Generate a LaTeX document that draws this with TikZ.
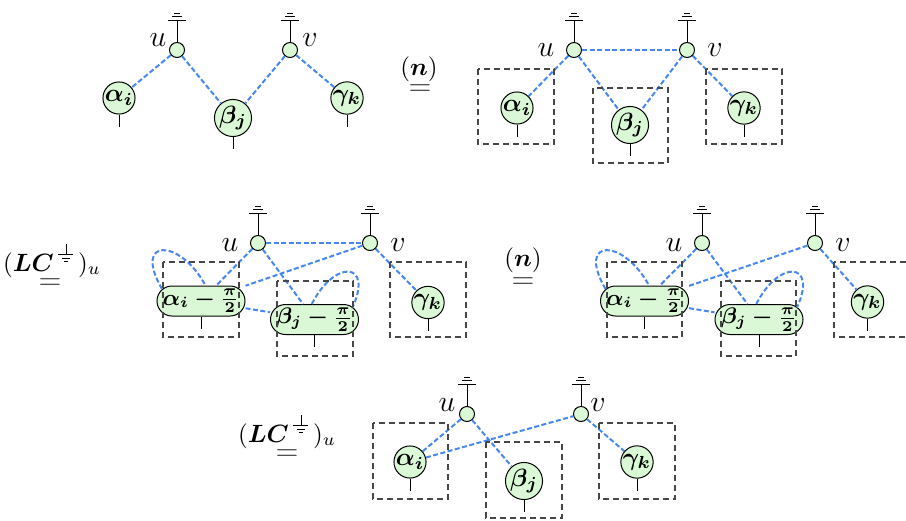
\documentclass[tikz,border=0pt]{standalone}
\usepackage{amsmath,bm}
\definecolor{zxblue}{RGB}{70,135,240}
\definecolor{zxgreen}{RGB}{218,248,214}
\definecolor{boxgray}{RGB}{70,70,70}
\newcommand{\gndsym}{\tikz[baseline=0pt,line width=0.35pt]{\draw[solid,black] (0,10.8pt)--(0,6.8pt) (-3pt,6.8pt)--(3pt,6.8pt) (-1.65pt,5.2pt)--(1.65pt,5.2pt) (-0.8pt,3.9pt)--(0.8pt,3.9pt);}}
\newcommand{\gndat}[1]{\draw[leg] (#1.north) -- ++(0,-22) ++(-9,0) -- ++(18,0) ++(-14,-4) -- ++(10,0) ++(-8,-3) -- ++(6,0);}
\newcommand{\legat}[1]{\draw[leg] (#1.south) -- ++(0,12);}
\tikzset{
 spider/.style={circle,draw,fill=zxgreen,minimum size=6pt,inner sep=0pt,line width=0.4pt},
 phase/.style={circle,draw,fill=zxgreen,minimum size=12.4pt,inner sep=0pt,line width=0.4pt},
 pill/.style={rectangle,rounded corners=6pt,draw,fill=zxgreen,minimum width=35.2pt,minimum height=12pt,inner sep=0pt,line width=0.4pt,font=\small},
 wire/.style={zxblue,line width=0.8pt,dash pattern=on 2pt off 1pt},
 leg/.style={line width=0.4pt},
 dbox/.style={boxgray,line width=0.5pt,dash pattern=on 2.4pt off 1.6pt},
 lbl/.style={inner sep=0pt,font=\large},
 eqlbl/.style={inner sep=0pt,anchor=base},
 eqsign/.style={inner sep=0pt,anchor=base,font=\large,text=black!80},
}
\begin{document}
\begin{tikzpicture}[x=0.4pt,y=-0.4pt]
\useasboundingbox (0,0) rectangle (906,520);

% ---------- Panel 1 ----------
\node[spider] (u1) at (177,50) {};
\node[spider] (v1) at (290,50) {};
\node[phase] (a1) at (119,98) {$\boldsymbol{\alpha_i}$};
\node[phase] (b1) at (233,118) {$\boldsymbol{\beta_j}$};
\node[phase] (g1) at (347,98) {$\boldsymbol{\gamma_k}$};
\node[lbl] (lu1) at (158,40) {$u$};
\node[lbl] (lv1) at (310,40) {$v$};
\gndat{u1}\gndat{v1}
\legat{a1}\legat{b1}\legat{g1}
\draw[wire] (u1) -- (a1);
\draw[wire] (u1) -- (b1);
\draw[wire] (v1) -- (b1);
\draw[wire] (v1) -- (g1);
\node[eqlbl] (n1) at (419,75) {$(\boldsymbol{n})$};
\node[eqsign] (e1) at (420,95) {$=$};

% ---------- Panel 2 ----------
\node[spider] (u2) at (574,50) {};
\node[spider] (v2) at (687,50) {};
\node[phase] (a2) at (517,108) {$\boldsymbol{\alpha_i}$};
\node[phase] (b2) at (630,125) {$\boldsymbol{\beta_j}$};
\node[phase] (g2) at (744,108) {$\boldsymbol{\gamma_k}$};
\node[lbl] (lu2) at (546,50) {$u$};
\node[lbl] (lv2) at (715,50) {$v$};
\gndat{u2}\gndat{v2}
\legat{a2}\legat{b2}\legat{g2}
\draw[wire] (u2) -- (v2);
\draw[wire] (u2) -- (a2);
\draw[wire] (u2) -- (b2);
\draw[wire] (v2) -- (b2);
\draw[wire] (v2) -- (g2);
\draw[dbox] (478,69) rectangle (554,144);
\draw[dbox] (593,88) rectangle (668,163);
\draw[dbox] (706,69) rectangle (782,144);

% ---------- Panel 3 ----------
\node[eqlbl] (n3) at (52,271) {$(\boldsymbol{LC}\,\gndsym\,)_u$};
\node[eqsign] (e3) at (50,289) {$=$};
\node[spider] (u3) at (258,243) {};
\node[spider] (v3) at (370,243) {};
\node[pill] (a3) at (201,301) {$\boldsymbol{\alpha_i - \frac{\pi}{2}}$};
\node[pill] (b3) at (314.5,319.5) {$\boldsymbol{\beta_j - \frac{\pi}{2}}$};
\node[phase] (g3) at (428,302.5) {$\boldsymbol{\gamma_k}$};
\node[lbl] (lu3) at (230,245) {$u$};
\node[lbl] (lv3) at (398,245) {$v$};
\gndat{u3}\gndat{v3}
\legat{a3}\legat{b3}\legat{g3}
\draw[wire] (u3) -- (v3);
\draw[wire] (u3) -- (a3);
\draw[wire] (v3) -- (a3);
\draw[wire] (u3) -- (b3);
\draw[wire] (a3) -- (b3);
\draw[wire] (v3) -- (g3);
\draw[wire] ([shift={(-39,-12)}]a3.center) .. controls +(-30,-52) and +(-25,-47) .. (a3.74);
\draw[wire] (b3.100) .. controls +(23,-45) and +(21,-46) .. ([shift={(38,-12)}]b3.center);
\draw[dbox] (163,262) rectangle (239,337);
\draw[dbox] (277,281) rectangle (353,356);
\draw[dbox] (390,262) rectangle (466,337);

% ---------- Panel 4 ----------
\node[eqlbl] (n4) at (523,266) {$(\boldsymbol{n})$};
\node[eqsign] (e4) at (523,288) {$=$};
\node[spider] (u4) at (702,243) {};
\node[spider] (v4) at (815,243) {};
\node[pill] (a4) at (644.5,301) {$\boldsymbol{\alpha_i - \frac{\pi}{2}}$};
\node[pill] (b4) at (759,319.5) {$\boldsymbol{\beta_j - \frac{\pi}{2}}$};
\node[phase] (g4) at (867.5,302) {$\boldsymbol{\gamma_k}$};
\node[lbl] (lu4) at (674,245) {$u$};
\node[lbl] (lv4) at (843,245) {$v$};
\gndat{u4}\gndat{v4}
\legat{a4}\legat{b4}\legat{g4}
\draw[wire] (u4) -- (a4);
\draw[wire] (v4) -- (a4);
\draw[wire] (u4) -- (b4);
\draw[wire] (a4) -- (b4);
\draw[wire] (v4) -- (g4);
\draw[wire] ([shift={(-39,-12)}]a4.center) .. controls +(-30,-52) and +(-25,-47) .. (a4.74);
\draw[wire] (b4.100) .. controls +(23,-45) and +(21,-46) .. ([shift={(38,-12)}]b4.center);
\draw[dbox] (607,262) rectangle (682,337);
\draw[dbox] (721,281) rectangle (796,356);
\draw[dbox] (834,262) rectangle (910,337);

% ---------- Panel 5 ----------
\node[eqlbl] (n5) at (287,442) {$(\boldsymbol{LC}\,\gndsym\,)_u$};
\node[eqsign] (e5) at (287,460) {$=$};
\node[spider] (u5) at (467,414) {};
\node[spider] (v5) at (581,414) {};
\node[phase] (a5) at (410,462) {$\boldsymbol{\alpha_i}$};
\node[phase] (b5) at (524,481) {$\boldsymbol{\beta_j}$};
\node[phase] (g5) at (637,462) {$\boldsymbol{\gamma_k}$};
\node[lbl] (lu5) at (447,405) {$u$};
\node[lbl] (lv5) at (598,405) {$v$};
\gndat{u5}\gndat{v5}
\legat{a5}\legat{b5}\legat{g5}
\draw[wire] (u5) -- (a5);
\draw[wire] (a5) -- (v5);
\draw[wire] (u5) -- (b5);
\draw[wire] (v5) -- (g5);
\draw[dbox] (373,423) rectangle (448,499);
\draw[dbox] (486,442) rectangle (562,518);
\draw[dbox] (599,423) rectangle (675,499);
\end{tikzpicture}
\end{document}
